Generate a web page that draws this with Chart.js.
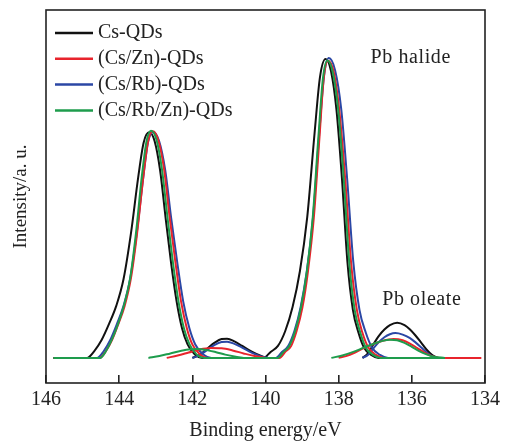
<!DOCTYPE html>
<html><head><meta charset="utf-8">
<script src="https://cdn.jsdelivr.net/npm/chart.js@4/dist/chart.umd.min.js"></script>
<style>html,body{margin:0;padding:0;background:#fff}</style>
</head><body>
<canvas id="c" width="513" height="443"></canvas>
<script>
// ---------- data ----------
const seriesNames = ['Cs-QDs', '(Cs/Zn)-QDs', '(Cs/Rb)-QDs', '(Cs/Rb/Zn)-QDs'];
const xTickValues = [146, 144, 142, 140, 138, 136, 134];

// Pb halide (main) curves: binding energy (eV) and intensity (a.u.)
const csEnergy = [145.8, 144.88,144.68,144.48,144.28,144.08,143.88,143.68,143.48,143.33,143.18,143.03,142.88,142.73,142.58,142.43,142.28,142.13,141.93,141.73, 140.06,139.86,139.66,139.46,139.26,139.06,138.86,138.66,138.51,138.36,138.21,138.06,137.91,137.76,137.61,137.46,137.31,137.11,136.91, 135.0];
const csIntensity = [0, 0,2.3,6.0,11.3,17.4,26.4,41.5,60.4,72.1,75.5,72.5,62.7,46.8,31.7,18.9,9.8,4.5,1.1,0, 0,2,4,9,17,29,47,75,94,100,96,83,60,32,16,8.5,3.5,1,0, 0];

const csZnEnergy = [145.8, 144.53,144.36,144.19,144.02,143.85,143.68,143.51,143.34,143.21,143.08,142.93,142.77,142.62,142.46,142.31,142.15,142.00,141.79,141.59, 139.62,139.46,139.30,139.15,138.99,138.84,138.68,138.52,138.41,138.29,138.13,137.98,137.82,137.66,137.50,137.35,137.19,136.98,136.77, 134.1];
const csZnIntensity = [0, 0,2.3,6.1,11.4,17.4,26.5,41.7,60.6,72.4,75.8,72.8,62.9,47.0,31.8,19.0,9.9,4.5,1.1,0, 0,2,4,9,16.9,28.9,46.8,74.6,93.4,99.4,95.4,82.5,59.6,31.8,15.9,8.4,3.5,1,0, 0];

const csRbEnergy = [145.8, 144.60,144.42,144.24,144.06,143.88,143.70,143.52,143.34,143.21,143.07,142.91,142.74,142.58,142.41,142.25,142.08,141.92,141.70,141.48, 139.72,139.55,139.38,139.21,139.04,138.87,138.70,138.53,138.40,138.27,138.10,137.93,137.77,137.60,137.43,137.26,137.09,136.87,136.65, 135.1];
const csRbIntensity = [0, 0,2.3,6.1,11.4,17.4,26.5,41.7,60.5,72.2,75.6,72.6,62.7,46.9,31.7,18.9,9.9,4.5,1.1,0, 0,2,4,9,17,29.1,47.1,75.2,94.3,100.3,96.3,83.2,60.2,32.1,16,8.5,3.5,1,0, 0];

const csRbZnEnergy = [145.8, 144.52,144.36,144.20,144.03,143.87,143.70,143.54,143.38,143.25,143.13,142.98,142.83,142.68,142.53,142.38,142.23,142.08,141.88,141.68, 139.67,139.51,139.35,139.19,139.03,138.87,138.71,138.55,138.43,138.31,138.16,138.01,137.86,137.71,137.56,137.41,137.26,137.06,136.86, 135.1];
const csRbZnIntensity = [0, 0,2.3,6.1,11.4,17.5,26.6,41.8,60.8,72.6,76.0,73.0,63.1,47.1,31.9,19.0,9.9,4.6,1.1,0, 0,2,4,9,16.9,28.9,46.8,74.6,93.5,99.5,95.5,82.6,59.7,31.8,15.9,8.5,3.5,1,0, 0];

// Pb oleate (component) curves
const csOleateAEnergy = [142.0,141.8,141.6,141.4,141.2,141.05,140.85,140.65,140.45,140.25,140.05,139.9];
const csOleateAIntensity = [0,1.0,3.0,5.0,6.3,6.4,5.5,4.1,2.6,1.3,0.3,0];
const csOleateBEnergy = [137.35,137.2,137.05,136.9,136.75,136.6,136.4,136.2,136.05,135.9,135.75,135.6,135.45,135.3];
const csOleateBIntensity = [0,1.5,4.6,7.4,9.5,11.0,11.8,11.0,9.5,7.5,5.2,2.8,1.0,0];

const csZnOleateAEnergy = [142.7,142.4,142.1,141.8,141.5,141.2,140.9,140.6,140.3,140.0];
const csZnOleateAIntensity = [0,0.8,1.8,2.8,3.3,3.2,2.5,1.5,0.6,0];
const csZnOleateBEnergy = [138.0,137.8,137.6,137.4,137.2,137.0,136.8,136.5,136.25,136.05,135.85,135.65,135.45,135.25];
const csZnOleateBIntensity = [0,0.6,1.5,2.8,3.9,4.9,5.7,6.3,5.9,4.8,3.3,1.8,0.6,0];

const csRbOleateAEnergy = [142.0,141.8,141.6,141.4,141.2,141.05,140.85,140.65,140.45,140.25,140.05,139.9];
const csRbOleateAIntensity = [0,0.9,2.6,4.3,5.3,5.4,4.7,3.5,2.2,1.1,0.3,0];
const csRbOleateBEnergy = [137.35,137.2,137.05,136.9,136.75,136.6,136.45,136.25,136.05,135.9,135.75,135.6,135.45,135.3];
const csRbOleateBIntensity = [0,1.0,3.2,5.3,6.9,7.9,8.3,7.8,6.6,5.2,3.6,1.9,0.6,0];

const csRbZnOleateAEnergy = [143.2,142.9,142.6,142.3,142.05,141.85,141.6,141.35,141.1,140.85,140.6];
const csRbZnOleateAIntensity = [0,0.6,1.5,2.4,2.9,3.0,2.6,1.9,1.1,0.5,0];
const csRbZnOleateBEnergy = [138.2,137.9,137.6,137.3,137.0,136.8,136.6,136.4,136.2,136.0,135.8,135.6,135.4,135.1];
const csRbZnOleateBIntensity = [0,0.8,2.0,3.5,4.9,5.7,6.1,5.9,5.0,3.7,2.3,1.2,0.4,0];

// ---------- styling ----------
const FONT = "'Liberation Serif', 'DejaVu Serif', serif";
const colors = ['#111111', '#e8242c', '#2b47a5', '#1e9c4c'];
const drawOrder = [3, 1, 2, 0]; // lower = drawn on top

function pts(E, V) { return E.map((e, i) => ({ x: e, y: V[i] })); }

const groups = [
  { main: [csEnergy, csIntensity], comps: [[csOleateAEnergy, csOleateAIntensity], [csOleateBEnergy, csOleateBIntensity]] },
  { main: [csZnEnergy, csZnIntensity], comps: [[csZnOleateAEnergy, csZnOleateAIntensity], [csZnOleateBEnergy, csZnOleateBIntensity]] },
  { main: [csRbEnergy, csRbIntensity], comps: [[csRbOleateAEnergy, csRbOleateAIntensity], [csRbOleateBEnergy, csRbOleateBIntensity]] },
  { main: [csRbZnEnergy, csRbZnIntensity], comps: [[csRbZnOleateAEnergy, csRbZnOleateAIntensity], [csRbZnOleateBEnergy, csRbZnOleateBIntensity]] }
];

const datasets = [];
groups.forEach((g, i) => {
  const base = { borderColor: colors[i], borderWidth: 2, pointRadius: 0, fill: false,
                 cubicInterpolationMode: 'monotone', order: drawOrder[i] };
  datasets.push(Object.assign({ label: seriesNames[i], data: pts(g.main[0], g.main[1]) }, base));
  g.comps.forEach(c => datasets.push(Object.assign({ label: seriesNames[i] + ' Pb oleate', data: pts(c[0], c[1]) }, base)));
});

const decor = {
  id: 'decor',
  afterDatasetsDraw(chart) {
    const { ctx, chartArea: a, scales: { x, y } } = chart;
    ctx.save();
    ctx.strokeStyle = '#222'; ctx.lineWidth = 1.6;
    ctx.strokeRect(a.left, a.top, a.right - a.left, a.bottom - a.top);
    // legend
    ctx.font = '20px ' + FONT; ctx.textAlign = 'left'; ctx.textBaseline = 'middle';
    seriesNames.forEach((n, i) => {
      const yy = a.top + 23 + i * 25.8;
      ctx.strokeStyle = colors[i]; ctx.lineWidth = 2.5;
      ctx.beginPath(); ctx.moveTo(a.left + 9, yy); ctx.lineTo(a.left + 47, yy); ctx.stroke();
      ctx.fillStyle = '#222';
      ctx.fillText(n, a.left + 52, yy);
    });
    // peak annotations
    ctx.letterSpacing = '0.6px';
    ctx.fillText('Pb halide', x.getPixelForValue(137.13), y.getPixelForValue(100.3));
    ctx.fillText('Pb oleate', x.getPixelForValue(136.81), y.getPixelForValue(19.4));
    ctx.restore();
  }
};

Chart.defaults.font.family = FONT;
new Chart(document.getElementById('c'), {
  type: 'line',
  data: { datasets },
  options: {
    responsive: false, animation: false,
    layout: { padding: { left: 0, right: 25, top: 10, bottom: 0 } },
    plugins: { legend: { display: false }, tooltip: { enabled: false } },
    scales: {
      x: {
        type: 'linear', reverse: true, min: 134, max: 146, position: 'bottom',
        afterBuildTicks: s => { s.ticks = xTickValues.map(v => ({ value: v })); },
        ticks: { font: { size: 20 }, color: '#222', padding: 13, maxRotation: 0 },
        grid: { drawOnChartArea: false, drawTicks: true, tickLength: -8, color: '#222', lineWidth: 1.6 },
        border: { display: false },
        title: { display: true, text: 'Binding energy/eV', font: { size: 20 }, color: '#222', padding: { top: 0, bottom: 0 } },
        afterFit: s => { s.height = 60; }
      },
      y: {
        min: -8.4, max: 116.4,
        ticks: { display: false },
        grid: { display: false },
        border: { display: false },
        title: { display: true, text: 'Intensity/a. u.', font: { size: 19 }, color: '#222', padding: { top: 10, bottom: 0 } },
        afterFit: s => { s.width = 46; }
      }
    }
  },
  plugins: [decor]
});
</script>
</body></html>
